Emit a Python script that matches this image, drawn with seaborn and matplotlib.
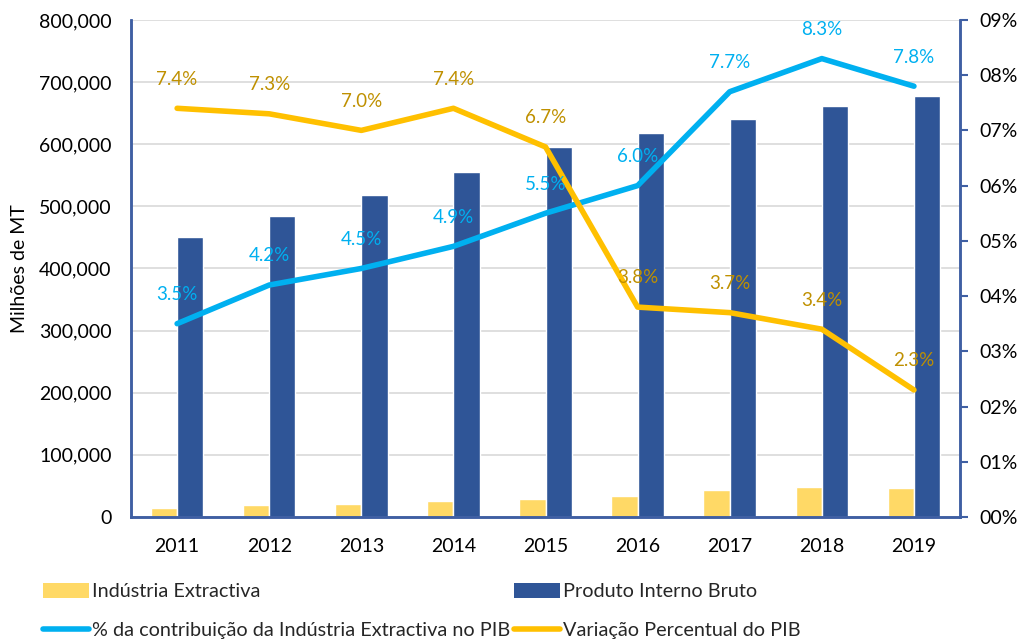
import matplotlib
matplotlib.use("Agg")
import matplotlib.pyplot as plt
from matplotlib.ticker import FuncFormatter, MultipleLocator
from matplotlib.lines import Line2D
import seaborn as sns
import pandas as pd

# Data (millions of MT and percentages)
years = ["2011", "2012", "2013", "2014", "2015", "2016", "2017", "2018", "2019"]
industria_extractiva = [15000, 19000, 21000, 25300, 29000, 33400, 43500, 48400, 46800]
pib = [451000, 485000, 519000, 556000, 595000, 618000, 640000, 661000, 677000]
contrib_pct = [3.5, 4.2, 4.5, 4.9, 5.5, 6.0, 7.7, 8.3, 7.8]
variacao_pct = [7.4, 7.3, 7.0, 7.4, 6.7, 3.8, 3.7, 3.4, 2.3]

name_ie = "Indústria Extractiva"
name_pib = "Produto Interno Bruto"
name_contrib = "% da contribuição da Indústria Extractiva no PIB"
name_var = "Variação Percentual do PIB"

c_ie = "#FFD966"
c_pib = "#2F5597"
c_contrib = "#00B0F0"
c_var = "#FFC000"
c_var_text = "#BF9000"
c_axis = "#3F5FA3"

sns.set_theme(style="white")
plt.rcParams["font.family"] = ["Lato", "DejaVu Sans"]

bars = pd.DataFrame({
    "Ano": years * 2,
    "Valor": industria_extractiva + pib,
    "Série": [name_ie] * len(years) + [name_pib] * len(years),
})
lines = pd.DataFrame({"Ano": years, "contrib": contrib_pct, "var": variacao_pct})

fig = plt.figure(figsize=(10.24, 6.43), dpi=100)
ax = fig.add_axes([0.128, 0.196, 0.8095, 0.773])

ax.yaxis.grid(True, color="#D9D9D9", linewidth=1.2)
ax.set_axisbelow(True)
sns.barplot(data=bars, x="Ano", y="Valor", hue="Série",
            palette=[c_ie, c_pib], width=0.57, gap=0, saturation=1,
            ax=ax, legend=False)
ax.set_ylim(0, 800000)
ax.yaxis.set_major_locator(MultipleLocator(100000))
ax.yaxis.set_major_formatter(FuncFormatter(lambda v, p: f"{int(v):,}"))
ax.set_xlim(-0.5, len(years) - 0.5)
ax.set_xlabel("")
ax.set_ylabel("Milhões de MT", fontsize=14, color="black", labelpad=8)
ax.tick_params(axis="y", length=0, pad=14, labelsize=14, labelcolor="black")
ax.tick_params(axis="x", length=0, pad=15, labelsize=14, labelcolor="black")

ax2 = ax.twinx()
sns.lineplot(data=lines, x="Ano", y="contrib", color=c_contrib, linewidth=4,
             ax=ax2, sort=False)
sns.lineplot(data=lines, x="Ano", y="var", color=c_var, linewidth=4,
             ax=ax2, sort=False)
ax2.set_ylim(0, 9)
ax2.set_xlim(-0.5, len(years) - 0.5)
ax2.yaxis.set_major_locator(MultipleLocator(1))
ax2.yaxis.set_major_formatter(FuncFormatter(lambda v, p: f"{int(round(v)):02d}%"))
ax2.set_ylabel("")
ax2.tick_params(axis="y", length=6, width=1.5, color=c_axis, pad=8,
                labelsize=14, labelcolor="black", direction="out")

for i, v in enumerate(contrib_pct):
    ax2.annotate(f"{v:.1f}%", (i, v), xytext=(0, 21), textcoords="offset points",
                 ha="center", va="center", color=c_contrib, fontsize=13.5)
for i, v in enumerate(variacao_pct):
    ax2.annotate(f"{v:.1f}%", (i, v), xytext=(0, 21), textcoords="offset points",
                 ha="center", va="center", color=c_var_text, fontsize=13.5)

for a in (ax, ax2):
    a.spines["top"].set_visible(False)
    for s in ("left", "right", "bottom"):
        a.spines[s].set_color(c_axis)
        a.spines[s].set_linewidth(1.8)

handles = [
    plt.Rectangle((0, 0), 1, 1, facecolor=c_ie, edgecolor="none"),
    Line2D([], [], color=c_contrib, linewidth=4, solid_capstyle="round"),
    plt.Rectangle((0, 0), 1, 1, facecolor=c_pib, edgecolor="none"),
    Line2D([], [], color=c_var, linewidth=4, solid_capstyle="round"),
]
labels = [name_ie, name_contrib, name_pib, name_var]
fig.legend(handles, labels, ncol=2, loc="lower left",
           bbox_to_anchor=(0.025, -0.022), frameon=False, fontsize=14.3,
           handlelength=2.3, handleheight=0.75, handletextpad=0.15,
           columnspacing=0.2, labelspacing=1.1)

fig.savefig("out.png", dpi=100)
